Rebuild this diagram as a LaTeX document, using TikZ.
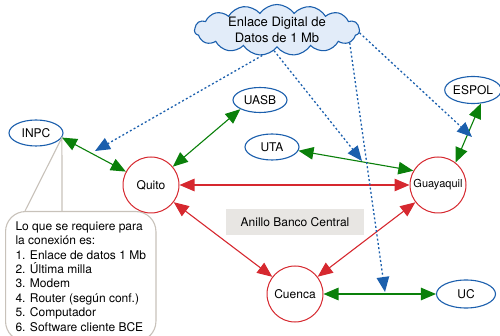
\documentclass[tikz,border=0pt]{standalone}
\usepackage{fontspec}
\setmainfont{TeX Gyre Heros}
\usetikzlibrary{arrows.meta,shapes.geometric,shapes.symbols}

\definecolor{azul}{RGB}{27,95,173}
\definecolor{rojo}{RGB}{214,40,47}
\definecolor{verdeo}{RGB}{10,128,10}
\definecolor{nubefill}{RGB}{226,236,249}
\definecolor{grisbox}{RGB}{232,230,227}
\definecolor{grisnota}{RGB}{200,194,186}

\tikzset{
  ciudad/.style={circle,draw=rojo,line width=1pt,fill=white,minimum size=56pt,inner sep=0pt},
  inst/.style={ellipse,draw=azul,line width=1.1pt,fill=white,minimum width=54pt,minimum height=26pt,inner sep=0pt},
  enlace/.style={draw=verdeo,line width=1.1pt,
    {Triangle[length=15pt,width=12.5pt]}-{Triangle[length=15pt,width=12.5pt]}},
  anillo/.style={draw=rojo,line width=1.1pt,
    {Triangle[length=15pt,width=12.5pt]}-{Triangle[length=15pt,width=12.5pt]}},
  datos/.style={draw=azul,line width=1.3pt,dash pattern=on 2pt off 2.3pt,
    -{Triangle[length=15pt,width=12.5pt]}}
}

\begin{document}
\begin{tikzpicture}[x=1pt,y=-1pt,every node/.style={font=\fontsize{12}{14.4}\selectfont}]
    \useasboundingbox (0,0) rectangle (500,336);

    % nota con lo requerido
    \node[draw=grisnota,line width=1.1pt,fill=white,rounded corners=20pt,align=left,
          inner xsep=10pt,inner ysep=10pt,anchor=north west] at (5,211) (nota)
        {Lo que se requiere para\\la conexión es:\\1. Enlace de datos 1 Mb\\2. Última milla\\3. Modem\\4. Router (según conf.)\\5. Computador\\6. Software cliente BCE};

    \node[cloud,cloud puffs=15,cloud puff arc=110,cloud ignores aspect,draw=azul,fill=nubefill,
          line width=1.1pt,minimum width=165pt,minimum height=51pt,inner sep=0pt,align=center,
          font=\fontsize{13}{15.5}\selectfont] at (277,30) (nube) {Enlace Digital de\\Datos de 1 Mb};

    \node[ciudad] at (151,185) (quito) {Quito};
    \node[ciudad,font=\fontsize{11}{13}\selectfont] at (438,185) (guayaquil) {Guayaquil};
    \node[ciudad] at (295,294) (cuenca) {Cuenca};

    \node[inst] at (36,133) (inpc) {INPC};
    \node[inst,minimum height=25pt] at (260,100) (uasb) {UASB};
    \node[inst] at (272,147) (uta) {UTA};
    \node[inst,minimum width=50pt,minimum height=27pt] at (473,90) (espol) {ESPOL};
    \node[inst,minimum width=59pt,minimum height=28pt] at (466,294) (uc) {UC};

    \node[fill=grisbox,minimum width=138pt,minimum height=26pt] at (295,222) (banco) {Anillo Banco Central};

    % punta de la nota
    \fill[white] ([xshift=20.5pt,yshift=0.8pt]nota.north west) -- (inpc.-10) -- ([xshift=56.5pt,yshift=0.8pt]nota.north west) -- cycle;
    \draw[grisnota,line width=1.1pt] ([xshift=20pt]nota.north west) -- (inpc.-10) -- ([xshift=57pt]nota.north west);

    \coordinate (zquito) at (95,151);
    \coordinate (zuta) at (362,161);
    \coordinate (zuc) at (385,292);
    \coordinate (zespol) at (472,137);

    \path
        (quito) edge[anillo] (guayaquil)
        (quito) edge[anillo] (cuenca)
        (cuenca) edge[anillo] (guayaquil);

    \path
        (inpc.-10) edge[enlace] (quito)
        (quito.40) edge[enlace] (uasb.205)
        (uta.-8) edge[enlace] (guayaquil.150)
        (guayaquil.52) edge[enlace] (espol.-60)
        (cuenca) edge[enlace] (uc);

    \path
        (nube.240) edge[datos] (zquito)
        (nube.262) edge[datos] (zuta)
        (nube.-10) edge[datos] (zuc)
        (nube.-2) edge[datos] (zespol);
\end{tikzpicture}
\end{document}
